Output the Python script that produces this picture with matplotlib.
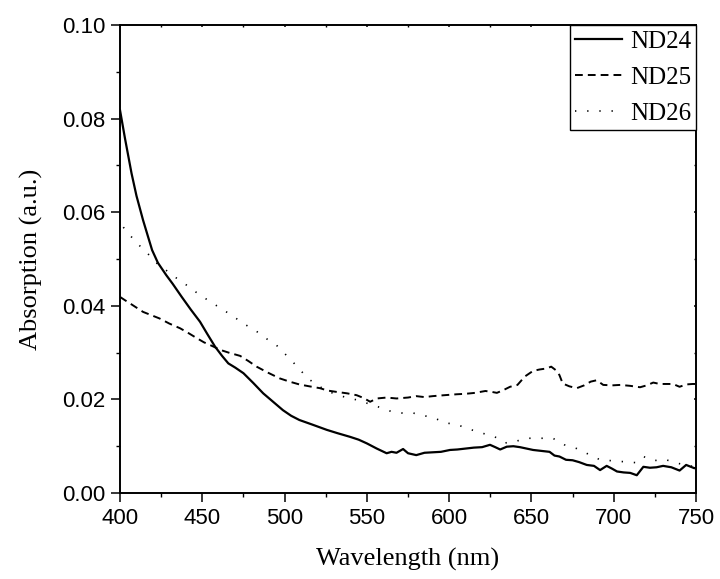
import matplotlib
matplotlib.use("Agg")
import matplotlib.pyplot as plt
from matplotlib.ticker import MultipleLocator

# ND24 (solid)
wl24 = [400, 403, 407, 410, 414, 417, 419.5, 423, 428, 432, 437.5, 443, 448.6, 453, 457.7, 462,
        465.8, 470, 475, 481, 487, 493, 499, 504, 509, 517, 525.6, 532, 539.8, 545, 550, 556,
        562, 565, 568, 572, 575, 580, 585, 590, 595, 600.5, 605, 610, 615, 620, 624.8, 628,
        631, 635, 639, 643, 647, 651, 656, 661, 664, 667, 671, 675, 679, 683.6, 688, 691.7,
        695.7, 699, 702, 706, 710, 714, 718, 722, 726, 730, 735, 740, 744, 749, 750]
nd24 = [0.0818, 0.0758, 0.0683, 0.0635, 0.0583, 0.0548, 0.0519, 0.0492, 0.0466, 0.0447, 0.0419,
        0.0392, 0.0366, 0.0340, 0.0313, 0.0293, 0.0277, 0.0268, 0.0256, 0.0235, 0.0213, 0.0195,
        0.0177, 0.0165, 0.0156, 0.0146, 0.0135, 0.0128, 0.0120, 0.0114, 0.0106, 0.0095, 0.0085,
        0.0088, 0.0086, 0.0094, 0.0085, 0.0081, 0.0086, 0.0087, 0.0088, 0.0092, 0.0093, 0.0095,
        0.0097, 0.0098, 0.0103, 0.0098, 0.0093, 0.0099, 0.0100, 0.0098, 0.0095, 0.0092, 0.0090,
        0.0088, 0.0080, 0.0078, 0.0071, 0.0070, 0.0066, 0.0060, 0.0058, 0.0049, 0.0058, 0.0052,
        0.0046, 0.0044, 0.0043, 0.0038, 0.0056, 0.0054, 0.0055, 0.0058, 0.0055, 0.0048, 0.0060,
        0.0053, 0.0054]

# ND25 (dashed)
wl25 = [400, 403, 407, 414, 419, 424, 430, 436.5, 441, 446.6, 451, 456.7, 460.8, 466, 473, 478,
        483, 490, 497, 503, 509, 515, 521.5, 526, 531.7, 538, 543.8, 548, 552, 556, 562, 568,
        575, 580, 585, 590, 597, 604.6, 610, 615.7, 622, 626, 629, 633, 637, 641.5, 646, 651,
        655, 659, 662, 665, 667, 669, 673, 677.5, 682, 686, 689.7, 693.6, 699, 704, 710, 716,
        720, 724, 728, 732, 736, 740, 744, 748, 750]
nd25 = [0.0419, 0.0412, 0.0403, 0.0387, 0.0380, 0.0373, 0.0362, 0.0352, 0.0343, 0.0331, 0.0322,
        0.0313, 0.0306, 0.0300, 0.0293, 0.0282, 0.0270, 0.0257, 0.0245, 0.0238, 0.0232, 0.0228,
        0.0224, 0.0219, 0.0216, 0.0213, 0.0209, 0.0203, 0.0195, 0.0202, 0.0204, 0.0202, 0.0204,
        0.0207, 0.0205, 0.0207, 0.0209, 0.0211, 0.0212, 0.0214, 0.0218, 0.0216, 0.0214, 0.0220,
        0.0227, 0.0231, 0.0249, 0.0261, 0.0264, 0.0266, 0.0270, 0.0262, 0.0252, 0.0234, 0.0228,
        0.0224, 0.0230, 0.0238, 0.0241, 0.0231, 0.0230, 0.0231, 0.0229, 0.0226, 0.0230, 0.0236,
        0.0233, 0.0233, 0.0233, 0.0227, 0.0232, 0.0233, 0.0233]

# ND26 (dotted)
wl26 = [402, 405, 410, 417, 422, 428, 434, 440.5, 447, 454.7, 462, 469, 475, 482, 488, 495, 502,
        508, 514, 521.5, 528, 535.7, 543.8, 550, 557, 565, 571, 578, 584, 591, 598, 605.6, 612.7,
        619.8, 626.8, 634, 640, 647, 654, 663, 670, 677.5, 684.6, 691.7, 698.8, 705.8, 713, 718,
        724, 731, 738, 744, 749]
nd26 = [0.0568, 0.0555, 0.0535, 0.0511, 0.0492, 0.0476, 0.0460, 0.0444, 0.0427, 0.0409, 0.0393,
        0.0377, 0.0362, 0.0348, 0.0332, 0.0316, 0.0291, 0.0269, 0.0245, 0.0227, 0.0215, 0.0206,
        0.0199, 0.0192, 0.0184, 0.0174, 0.0171, 0.0171, 0.0166, 0.0160, 0.0150, 0.0145, 0.0136,
        0.0128, 0.0122, 0.0107, 0.0110, 0.0117, 0.0117, 0.0117, 0.0103, 0.0095, 0.0083, 0.0071,
        0.0069, 0.0067, 0.0065, 0.0078, 0.0069, 0.0072, 0.0064, 0.0060, 0.0056]

serif = "Liberation Serif"
sans = "Liberation Sans"

fig = plt.figure(figsize=(7.2, 5.79), dpi=100)
ax = fig.add_axes([0.1667, 0.1485, 0.8, 0.8083])

ax.plot(wl24, nd24, color="black", lw=1.6, label="ND24")
ax.plot(wl25, nd25, color="black", lw=1.4, linestyle=(0, (4, 2.6)), label="ND25")
ax.plot(wl26, nd26, color="black", lw=1.2, linestyle=(0, (0.8, 6.5)), label="ND26")

ax.set_xlim(400, 750)
ax.set_ylim(0, 0.10)
ax.xaxis.set_major_locator(MultipleLocator(50))
ax.xaxis.set_minor_locator(MultipleLocator(25))
ax.yaxis.set_major_locator(MultipleLocator(0.02))
ax.yaxis.set_minor_locator(MultipleLocator(0.01))
ax.yaxis.set_major_formatter(plt.FuncFormatter(lambda v, p: "%.2f" % v))

for s in ax.spines.values():
    s.set_linewidth(1.4)

ax.tick_params(which="major", direction="out", length=6.5, width=1.1, labelsize=16, pad=4)
ax.tick_params(which="minor", direction="out", length=3, width=1.0)
ax.tick_params(which="both", top=True, right=True)
for t in ax.xaxis.get_ticklabels() + ax.yaxis.get_ticklabels():
    t.set_fontfamily(sans)
# tiny inward ticks on top and right spines
for tl in ax.xaxis.get_major_ticks() + ax.xaxis.get_minor_ticks():
    tl.tick2line.set_markersize(1.5)
    tl.tick2line.set_marker(3)
for tl in ax.yaxis.get_major_ticks() + ax.yaxis.get_minor_ticks():
    tl.tick2line.set_markersize(1.5)
    tl.tick2line.set_marker(0)

ax.set_xlabel("Wavelength (nm)", fontfamily=serif, fontsize=19, labelpad=14)
ax.set_ylabel("Absorption (a.u.)", fontfamily=serif, fontsize=19, labelpad=14)

leg = ax.legend(loc="upper right", prop={"family": serif, "size": 18}, frameon=True,
                fancybox=False, framealpha=1, edgecolor="black", borderaxespad=0,
                handlelength=1.9, handletextpad=0.3, labelspacing=0.55, borderpad=0.2)
leg.get_frame().set_linewidth(1.0)

fig.savefig("out.png", dpi=100)
